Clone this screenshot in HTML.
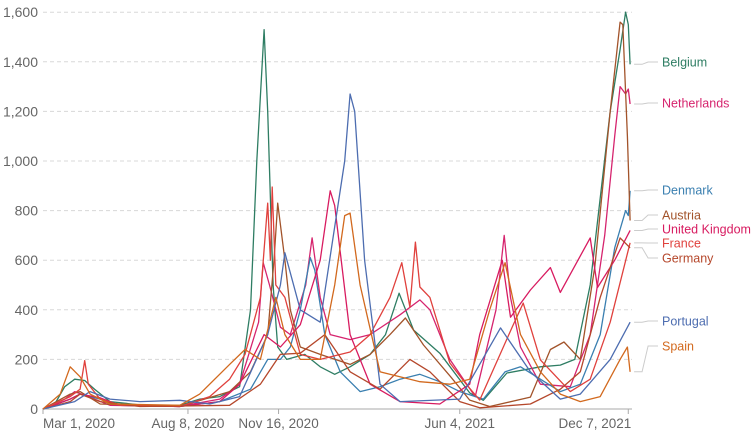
<!DOCTYPE html>
<html><head><meta charset="utf-8"><style>
body{margin:0;background:#fff;}
svg{display:block;font-family:"Liberation Sans",sans-serif;}
</style></head><body>
<svg id="chart" width="754" height="438"></svg>
<script>
const countries = ["Belgium","Netherlands","Denmark","Austria","United Kingdom","France","Germany","Portugal","Spain"];
const colors = ["#2e7d63","#d6246e","#3a7fb0","#a2532a","#d81b60","#e0413d","#b5472b","#4d6db0","#d2691e"];
const labelY = [62,103,190,215,229,243,258,321,346];
const yTicks = [0,200,400,600,800,1000,1200,1400,1600];
const yTickLabels = ["0","200","400","600","800","1,000","1,200","1,400","1,600"];
const xTickDays = [0,160,260,460,646];
const xTickLabels = ["Mar 1, 2020","Aug 8, 2020","Nov 16, 2020","Jun 4, 2021","Dec 7, 2021"];
const belgium = [[0,0],[13,20],[24,90],[35,120],[46,115],[57,80],[74,30],[118,12],[151,15],[173,40],[195,50],[217,90],[229,400],[236,1000],[244,1530],[248,1200],[254,500],[259,250],[269,200],[289,220],[306,170],[322,140],[339,170],[361,220],[378,300],[393,467],[409,318],[438,225],[471,65],[486,35],[512,145],[549,170],[571,177],[587,200],[604,500],[615,850],[626,1200],[637,1450],[643,1600],[646,1550],[648,1390]];
const netherlands = [[0,0],[24,40],[35,70],[50,50],[74,15],[150,10],[195,40],[217,100],[238,350],[243,590],[250,500],[262,330],[273,300],[290,500],[297,690],[306,450],[317,300],[339,280],[361,300],[394,380],[416,440],[427,400],[449,200],[477,50],[500,400],[509,700],[516,450],[527,250],[549,100],[582,90],[604,300],[620,700],[631,1100],[637,1300],[643,1270],[646,1290],[648,1230]];
const denmark = [[0,0],[30,40],[41,60],[63,40],[85,15],[151,10],[195,30],[229,80],[248,200],[262,200],[273,250],[284,400],[295,610],[300,560],[311,300],[328,150],[350,70],[372,90],[394,120],[416,140],[438,110],[460,70],[486,40],[510,150],[527,170],[549,120],[571,70],[593,100],[615,300],[631,650],[643,800],[646,780],[648,880]];
const austria = [[0,0],[30,60],[41,70],[63,20],[151,10],[206,70],[229,150],[248,300],[255,600],[259,830],[267,600],[273,400],[284,250],[306,220],[339,180],[361,220],[383,300],[400,367],[420,258],[450,130],[471,36],[493,10],[538,48],[560,240],[575,270],[593,200],[609,573],[626,1200],[637,1560],[640,1550],[645,1100],[648,760]];
const unitedKingdom = [[0,0],[30,40],[41,60],[63,45],[85,15],[151,10],[195,30],[217,100],[244,300],[262,250],[284,340],[306,600],[317,880],[322,820],[339,300],[361,100],[394,30],[438,20],[471,100],[482,300],[507,600],[516,370],[538,480],[560,570],[571,470],[604,690],[612,490],[631,600],[648,720]];
const france = [[0,0],[30,50],[41,80],[46,195],[50,100],[63,40],[85,15],[151,10],[184,50],[206,120],[223,220],[240,450],[248,830],[251,600],[253,895],[257,500],[267,450],[284,220],[306,200],[339,230],[361,300],[383,450],[396,590],[405,411],[411,673],[416,492],[427,450],[449,186],[466,105],[482,36],[518,331],[530,427],[549,198],[582,70],[604,120],[626,350],[648,670]];
const germany = [[0,0],[30,30],[41,60],[63,30],[107,10],[206,15],[240,100],[262,220],[284,225],[311,300],[339,150],[372,80],[405,200],[427,150],[460,30],[482,5],[538,20],[571,80],[593,150],[615,450],[637,690],[648,650]];
const portugal = [[0,0],[35,30],[52,70],[74,40],[107,30],[151,35],[184,20],[217,50],[248,300],[262,500],[267,630],[284,400],[306,350],[333,1000],[339,1270],[344,1200],[355,600],[372,100],[394,30],[460,40],[505,327],[538,150],[571,40],[593,60],[626,200],[648,350]];
const spain = [[0,0],[19,60],[30,170],[41,130],[52,60],[74,20],[151,15],[173,60],[206,180],[223,240],[240,200],[257,450],[267,300],[284,200],[306,200],[322,500],[333,780],[339,790],[350,500],[372,150],[416,110],[449,100],[471,120],[493,400],[510,590],[527,300],[549,150],[571,60],[593,30],[615,50],[637,200],[645,250],[648,150]];
const seriesData = [belgium,netherlands,denmark,austria,unitedKingdom,france,germany,portugal,spain];

const NS="http://www.w3.org/2000/svg";
const svg=document.getElementById('chart');
const X0=43, PXD=0.906, Y0=409, PXV=0.248;
function xs(d){return X0+d*PXD;}
function ys(v){return Y0-v*PXV;}
function mk(tag,attrs,parent){const e=document.createElementNS(NS,tag);for(const k in attrs)e.setAttribute(k,attrs[k]);(parent||svg).appendChild(e);return e;}

const grid=mk('g',{});


yTicks.forEach((t,i)=>{
  if(t>0){const l=mk('line',{x1:X0,x2:632,y1:ys(t),y2:ys(t),stroke:'#d8d8d8','stroke-dasharray':'4,3','stroke-width':1},grid);
  
  }
  const tx=mk('text',{x:38,y:ys(t)+5,'text-anchor':'end','font-size':14,fill:'#666'},grid);
  tx.textContent=yTickLabels[i];
  
  
});
const ax=mk('line',{x1:X0,x2:632,y1:Y0,y2:Y0,stroke:'#aaa','stroke-width':1});


xTickDays.forEach((d,i)=>{
  const t=mk('line',{x1:xs(d),x2:xs(d),y1:Y0,y2:Y0+5,stroke:'#aaa'});
  
  
  let anchor='middle', xx=xs(d);
  if(i===0){anchor='start';}
  if(i===4){anchor='end';xx=xs(d)+3;}
  const tx=mk('text',{x:xx,y:428,'text-anchor':anchor,'font-size':13.5,fill:'#666'});
  tx.textContent=xTickLabels[i];
  
  
});
seriesData.forEach((s,i)=>{
  const p=s.map((pt,j)=>(j?'L':'M')+xs(pt[0]).toFixed(1)+','+ys(pt[1]).toFixed(1)).join('');
  const path=mk('path',{d:p,fill:'none',stroke:colors[i],'stroke-width':1.3,'stroke-linejoin':'round'});
  
  
  const last=s[s.length-1];
  const ly=ys(last[1]), lx=xs(last[0])+4;
  const lead=mk('polyline',{points:`${lx},${ly} ${lx+8},${ly} ${lx+14},${labelY[i]} ${658},${labelY[i]}`,fill:'none',stroke:'#ccc','stroke-width':1});
  
  
  const tx=mk('text',{x:662,y:labelY[i]+4.5,'font-size':12.5,fill:colors[i]});
  tx.textContent=countries[i];
  
  
});
</script>
</body></html>
